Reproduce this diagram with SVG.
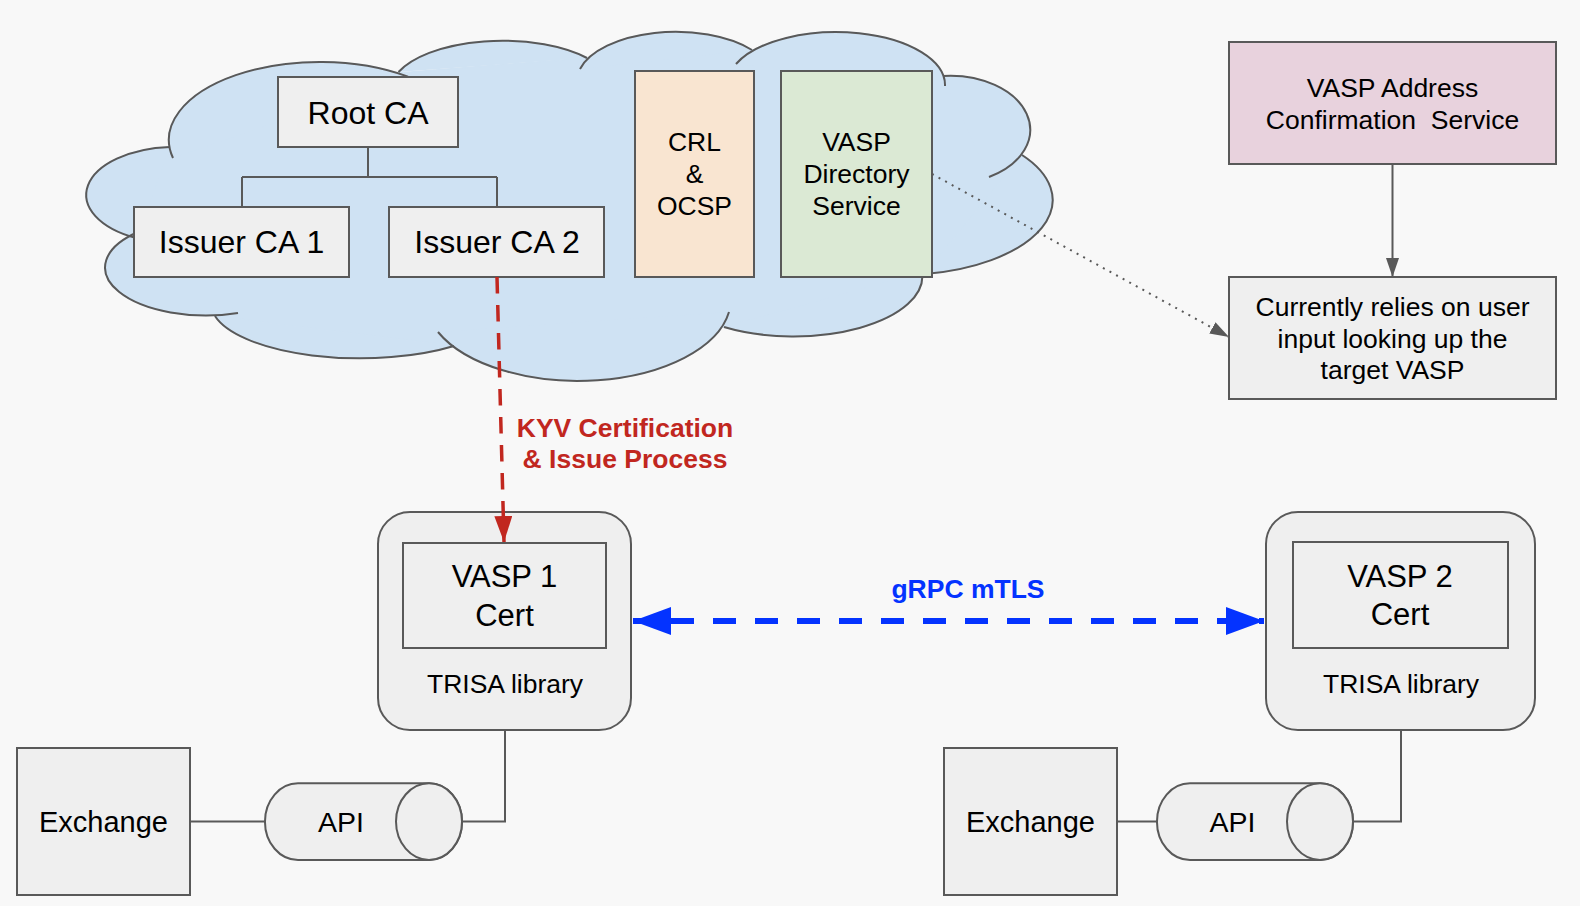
<svg xmlns="http://www.w3.org/2000/svg" width="1580" height="906" viewBox="0 0 1580 906">
<defs>
<style>
.bx{fill:#efefef;stroke:#595959;stroke-width:2}
.t{font-family:"Liberation Sans",Arial,sans-serif;fill:#000;text-anchor:middle}
.big{font-size:32px}
.cert{font-size:31px}
.mid{font-size:26.5px}
.ex{font-size:29px}
.api{font-size:28.5px}
.lbl{font-family:"Liberation Sans",Arial,sans-serif;font-weight:bold;font-size:26.5px;text-anchor:middle}
.ln{fill:none;stroke:#595959;stroke-width:2}
.cf{fill:#cfe2f3;stroke:#cfe2f3;stroke-width:1.5}
.cs{fill:none;stroke:#595959;stroke-width:2}
</style>
<marker id="ag" viewBox="0 0 19 13" markerWidth="19" markerHeight="13" refX="19" refY="6.5" orient="auto" markerUnits="userSpaceOnUse"><path d="M0,0 L19,6.5 L0,13 Z" fill="#595959"/></marker>
<marker id="ar" viewBox="0 0 26 18" markerWidth="26" markerHeight="18" refX="26" refY="9" orient="auto" markerUnits="userSpaceOnUse"><path d="M0,0 L26,9 L0,18 Z" fill="#c1271f"/></marker>
<marker id="ab" viewBox="0 0 38 28" markerWidth="38" markerHeight="28" refX="38" refY="14" orient="auto-start-reverse" markerUnits="userSpaceOnUse"><path d="M0,0 L38,14 L0,28 Z" fill="#0433ff"/></marker>
<path id="lA" d="M173,158 A151 78 0 0 1 408,76.6"/>
<path id="lB" d="M398.5,72 A112 50 0 0 1 587,58"/>
<path id="lC" d="M580,69 A99 50 0 0 1 752,50"/>
<path id="lD" d="M736,64 A109 53 0 0 1 945,86"/>
<path id="lE" d="M943,76 A80 54 0 0 1 989,177"/>
<path id="lF" d="M1022,155 A153 75 0 0 1 925,274"/>
<path id="lG" d="M922,272 A129 60 0 0 1 724,327"/>
<path id="lH" d="M729,312 A153 82 0 0 1 438,332"/>
<path id="lI" d="M454,346 A149 55 0 0 1 215,316"/>
<path id="lJ" d="M238,313 A101 48 0 0 1 138,232"/>
<path id="lK" d="M136,238 A89 48 0 0 1 170,147"/>
</defs>
<rect width="1580" height="906" fill="#f8f8f8"/>
<g id="cloud">
<polygon class="cf" points="170,147 398,73 587,58 752,50 943,76 1022,155 925,274 724,327 454,346 215,316 136,238"/>
<use href="#lA" class="cf"/><use href="#lB" class="cf"/><use href="#lC" class="cf"/><use href="#lD" class="cf"/><use href="#lE" class="cf"/><use href="#lF" class="cf"/><use href="#lG" class="cf"/><use href="#lH" class="cf"/><use href="#lI" class="cf"/><use href="#lJ" class="cf"/><use href="#lK" class="cf"/>
<use href="#lA" class="cs"/><use href="#lB" class="cs"/><use href="#lC" class="cs"/><use href="#lD" class="cs"/><use href="#lE" class="cs"/><use href="#lF" class="cs"/><use href="#lG" class="cs"/><use href="#lH" class="cs"/><use href="#lI" class="cs"/><use href="#lJ" class="cs"/><use href="#lK" class="cs"/>
</g>
<g id="root-ca"><rect class="bx" x="278" y="77" width="180" height="70"/><text class="t big" x="368" y="124">Root CA</text></g>
<g id="issuer-ca-1"><rect class="bx" x="134" y="207" width="215" height="70"/><text class="t big" x="241.5" y="253">Issuer CA 1</text></g>
<g id="issuer-ca-2"><rect class="bx" x="389" y="207" width="215" height="70"/><text class="t big" x="497" y="253">Issuer CA 2</text></g>
<g id="crl-ocsp"><rect x="635" y="71" width="119" height="206" fill="#f9e5d1" stroke="#595959" stroke-width="2"/><text class="t mid" x="694.5" y="151">CRL</text><text class="t mid" x="694.5" y="183">&amp;</text><text class="t mid" x="694.5" y="215">OCSP</text></g>
<g id="vasp-directory"><rect x="781" y="71" width="151" height="206" fill="#dbe9d4" stroke="#595959" stroke-width="2"/><text class="t mid" x="856.5" y="151">VASP</text><text class="t mid" x="856.5" y="183">Directory</text><text class="t mid" x="856.5" y="215">Service</text></g>
<g id="vasp-address"><rect x="1229" y="42" width="327" height="122" fill="#e8d2dd" stroke="#595959" stroke-width="2"/><text class="t mid" x="1392.5" y="97">VASP Address</text><text class="t mid" x="1392.5" y="129" xml:space="preserve">Confirmation  Service</text></g>
<g id="user-input"><rect class="bx" x="1229" y="277" width="327" height="122"/><text class="t mid" x="1392.5" y="316">Currently relies on user</text><text class="t mid" x="1392.5" y="348">input looking up the</text><text class="t mid" x="1392.5" y="379">target VASP</text></g>
<g id="vasp1"><rect class="bx" x="378" y="512" width="253" height="218" rx="32"/><rect class="bx" x="403" y="543" width="203" height="105"/><text class="t cert" x="504.5" y="587">VASP 1</text><text class="t cert" x="504.5" y="626">Cert</text><text class="t mid" x="505" y="693">TRISA library</text></g>
<g id="vasp2"><rect class="bx" x="1266" y="512" width="269" height="218" rx="32"/><rect class="bx" x="1293" y="542" width="215" height="106"/><text class="t cert" x="1400" y="587">VASP 2</text><text class="t cert" x="1400" y="625">Cert</text><text class="t mid" x="1401" y="693">TRISA library</text></g>
<g id="exchange1"><rect class="bx" x="17" y="748" width="173" height="147"/><text class="t ex" x="103.5" y="832">Exchange</text></g>
<g id="exchange2"><rect class="bx" x="944" y="748" width="173" height="147"/><text class="t ex" x="1030.5" y="832">Exchange</text></g>
<g id="api1"><path class="bx" d="M298,783.3 H429 A33 38.3 0 0 1 429,860 H298 A33 38.3 0 0 1 298,783.3 Z"/><ellipse class="bx" cx="429" cy="821.6" rx="33" ry="38.3"/><text class="t api" x="341" y="832">API</text></g>
<g id="api2"><path class="bx" d="M1190,783.3 H1320 A33 38.3 0 0 1 1320,860 H1190 A33 38.3 0 0 1 1190,783.3 Z"/><ellipse class="bx" cx="1320" cy="821.6" rx="33" ry="38.3"/><text class="t api" x="1232.5" y="832">API</text></g>
<g id="connectors">
<path class="ln" d="M368,147 V177 M242,177 H497 M242,177 V207 M497,177 V207"/>
<line x1="497" y1="277" x2="504" y2="542" stroke="#c1271f" stroke-width="3.5" stroke-dasharray="16.5 11.5" marker-end="url(#ar)"/>
<text class="lbl" fill="#c1271f" x="625" y="437">KYV Certification</text>
<text class="lbl" fill="#c1271f" x="625" y="468">&amp; Issue Process</text>
<line x1="633" y1="621" x2="1264" y2="621" stroke="#0433ff" stroke-width="6" stroke-dasharray="23 19" stroke-dashoffset="4" marker-start="url(#ab)" marker-end="url(#ab)"/>
<text class="lbl" fill="#0433ff" x="968" y="598">gRPC mTLS</text>
<line class="ln" x1="1392.5" y1="164" x2="1392.5" y2="277" marker-end="url(#ag)"/>
<line x1="932" y1="174" x2="1229" y2="337" stroke="#595959" stroke-width="2" stroke-dasharray="2 5.5" marker-end="url(#ag)"/>
<path class="ln" d="M190,821.6 H265"/>
<path class="ln" d="M462,821.6 H505 V730"/>
<path class="ln" d="M1117,821.6 H1157"/>
<path class="ln" d="M1353,821.6 H1401 V730"/>
</g>
</svg>
